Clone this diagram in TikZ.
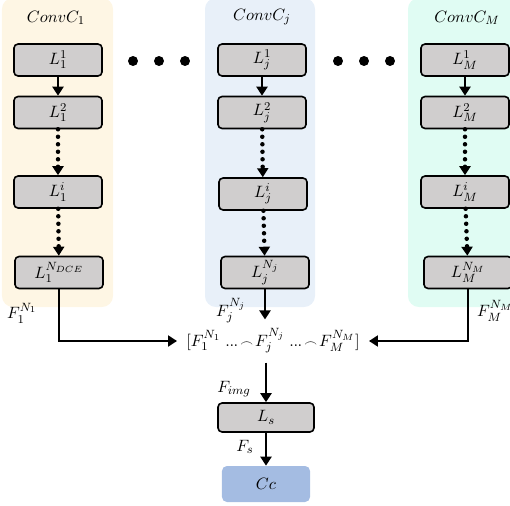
\documentclass[tikz,border=0pt]{standalone}
\usetikzlibrary{arrows.meta}
\definecolor{bgone}{HTML}{FEF6E4}
\definecolor{bgtwo}{HTML}{E8F0F9}
\definecolor{bgthree}{HTML}{E0FCF3}
\definecolor{boxgray}{HTML}{D0CECE}
\definecolor{ccblue}{HTML}{A4BCE2}
\newcommand{\catdots}{\mathord{.\kern-0.3pt.\kern-0.3pt.}}
\newcommand{\catfrown}{\mathbin{\kern-1pt\scriptstyle\frown\kern-1pt}}
\begin{document}
\begin{tikzpicture}[x=0.6667pt,y=-0.6667pt,
  every node/.style={font=\fontsize{10.95}{13}\selectfont},
  lay/.style={draw=black, line width=1.07pt, fill=boxgray, rounded corners=2.7pt,
    minimum width=58.7pt, minimum height=21.3pt, inner sep=0pt},
  arr/.style={-{Triangle[length=6pt,width=7.3pt]}, line width=1.47pt},
  dotarr/.style={-{Triangle[length=6pt,width=7.3pt]}, line width=3pt,
    dash pattern=on 0pt off 5pt, line cap=round},
  lbl/.style={inner sep=0pt},
  bigdot/.style={fill=black}]
\useasboundingbox (0,0) rectangle (510,506);
\begin{scope}
  \clip (0,0) rectangle (510,506);
  \fill[bgone, rounded corners=7.3pt] (2,-2) rectangle (113,307);
  \fill[bgtwo, rounded corners=7.3pt] (205,-2) rectangle (315,307);
  \fill[bgthree, rounded corners=7.3pt] (408,-2) rectangle (525,307);
\end{scope}
% headers
\node[lbl] (h1) at (56,18) {$ConvC_1$};
\node[lbl] (hj) at (262,17) {$ConvC_j$};
\node[lbl] (hm) at (467,18) {$ConvC_M$};
% dots
\foreach \x in {133,159,185,338,364,390} \fill[bigdot] (\x,61) circle (3.33pt);
% column 1
\node[lay] (a1) at (58,60) {$L_1^1$};
\node[lay] (a2) at (58,112.5) {$L_1^2$};
\node[lay] (a3) at (58,192) {$L_1^i$};
\node[lay] (a4) at (59,272.5) {$L_1^{N_{DCE}}$};
% column j
\node[lay] (b1) at (262,60) {$L_j^1$};
\node[lay] (b2) at (262,112.5) {$L_j^2$};
\node[lay] (b3) at (263,194) {$L_j^i$};
\node[lay] (b4) at (265,272.5) {$L_j^{N_j}$};
% column M
\node[lay] (c1) at (465,60) {$L_M^1$};
\node[lay] (c2) at (465,112.5) {$L_M^2$};
\node[lay] (c3) at (465,192) {$L_M^i$};
\node[lay] (c4) at (468,272.5) {$L_M^{N_M}$};
% arrows in columns
\foreach \c in {a,b,c} {
  \draw[arr] (\c1) -- (\c2);
  \draw[dotarr] (\c2) -- (\c3);
  \draw[dotarr] (\c3) -- (\c4);
}
% concatenation
\node[inner xsep=6pt, inner ysep=6pt] (cat) at (273,341)
  {$[F_1^{N_1}\;\catdots\catfrown F_j^{N_j}\;\catdots\catfrown F_M^{N_M}]$};
\draw[arr] (a4.south) |- (cat.west);
\draw[arr] (c4.south) |- (cat.east);
\draw[arr] (b4.south) -- (b4.south |- cat.north);
% labels
\node[lbl] (f1) at (22,313) {$F_1^{N_1}$};
\node[lbl] (fj) at (231,311) {$F_j^{N_j}$};
\node[lbl] (fm) at (495,311) {$F_M^{N_M}$};
% bottom
\node[lay, minimum width=64pt, minimum height=19.3pt] (ls) at (266,417.5) {$L_s$};
\node[fill=ccblue, rounded corners=3.3pt, minimum width=58.7pt, minimum height=24pt, inner sep=0pt] (cc) at (266,484) {$Cc$};
\draw[arr] (cat.south -| ls.north) -- (ls.north);
\draw[arr] (ls) -- (cc);
\node[lbl] (fimg) at (234,389) {$F_{img}$};
\node[lbl] (fs) at (245,447) {$F_s$};
\end{tikzpicture}
\end{document}
